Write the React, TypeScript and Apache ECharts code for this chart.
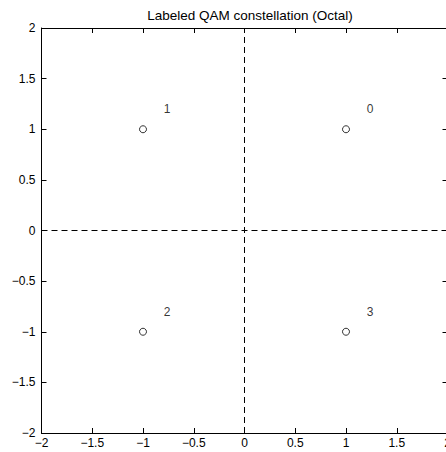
import React, { useEffect, useRef } from "react";
import * as echarts from "echarts";

const pointLabels = ["0", "1", "2", "3"];
const pointX = [1, -1, -1, 1];
const pointY = [1, 1, -1, -1];
const labelOffset = 0.2;
const axisMin = -2;
const axisMax = 2;
const tickStep = 0.5;

const fmt = (v: number) => String(v).replace("-", "\u2212");

export default function App() {
  const ref = useRef<HTMLDivElement>(null);
  useEffect(() => {
    if (!ref.current) return;
    const chart = echarts.init(ref.current, null, { renderer: "svg" });
    const font = "'Liberation Sans', Arial, sans-serif";
    const axisCommon = {
      type: "value" as const,
      min: axisMin,
      max: axisMax,
      interval: tickStep,
      axisLine: { show: true, onZero: false, lineStyle: { color: "#000", width: 1 } },
      axisTick: { show: true, inside: true, length: 5, lineStyle: { color: "#000" } },
      splitLine: { show: false },
    };
    const labelCommon = { color: "#000", fontSize: 12, fontFamily: font, formatter: (v: number) => fmt(v) };
    chart.setOption({
      animation: false,
      backgroundColor: "#fff",
      title: {
        text: "Labeled QAM constellation (Octal)",
        left: 245,
        textAlign: "center",
        top: 2,
        textStyle: { fontSize: 13.5, fontWeight: "normal", color: "#000", fontFamily: font, lineHeight: 16 },
      },
      grid: { left: 41.5, top: 28, width: 406, height: 405 },
      xAxis: [
        { ...axisCommon, position: "bottom", axisLabel: { ...labelCommon, margin: 4 } },
        { ...axisCommon, position: "top", axisLabel: { show: false } },
      ],
      yAxis: [
        { ...axisCommon, position: "left", axisLabel: { ...labelCommon, margin: 6 } },
        { ...axisCommon, position: "right", axisLabel: { show: false } },
      ],
      series: [
        {
          type: "line",
          data: [[axisMin, 0], [axisMax, 0]],
          symbol: "none",
          lineStyle: { color: "#000", width: 1, type: [6, 4] },
          silent: true,
        },
        {
          type: "line",
          data: [[0, axisMin], [0, axisMax]],
          symbol: "none",
          lineStyle: { color: "#000", width: 1, type: [6, 4] },
          silent: true,
        },
        {
          type: "scatter",
          data: pointX.map((x, i) => [x, pointY[i]]),
          symbol: "circle",
          symbolSize: 7,
          itemStyle: { color: "#fff", borderColor: "#000", borderWidth: 1 },
        },
        {
          type: "scatter",
          data: pointX.map((x, i) => ({ value: [x + labelOffset, pointY[i] + labelOffset], name: pointLabels[i] })),
          symbolSize: 1,
          itemStyle: { color: "rgba(0,0,0,0)" },
          label: {
            show: true,
            position: "right",
            distance: 0,
            formatter: (p: any) => p.name,
            color: "#000",
            fontSize: 12,
            fontFamily: font,
          },
        },
      ],
    });
    return () => chart.dispose();
  }, []);
  return (
    <div
      ref={ref}
      style={{ position: "fixed", left: 0, top: 0, width: 460, height: 452 }}
    />
  );
}
